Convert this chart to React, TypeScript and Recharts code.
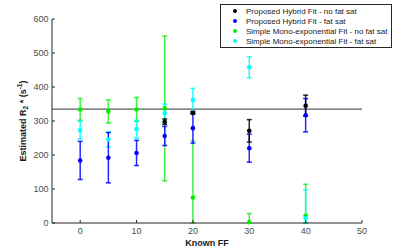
import { ScatterChart, Scatter, XAxis, YAxis, ErrorBar, ReferenceLine } from "recharts";

// known fat fraction (x) for each measurement
const knownFF = [0, 5, 10, 15, 20, 30, 40];
const hybridNoFatSatFF = [15, 20, 30, 40];

// Proposed Hybrid Fit - no fat sat
const hybridNoFatSat = [298, 324, 271, 345];
const hybridNoFatSatErrLow = [8, 4, 33, 31];
const hybridNoFatSatErrHigh = [8, 4, 33, 31];

// Proposed Hybrid Fit - fat sat
const hybridFatSat = [184, 192, 206, 256, 279, 220, 317];
const hybridFatSatErrLow = [56, 74, 37, 28, 44, 41, 49];
const hybridFatSatErrHigh = [56, 74, 37, 28, 44, 41, 49];

// Simple Mono-exponential Fit - no fat sat
const monoNoFatSat = [334, 328, 334, 337, 75, 2, 21];
const monoNoFatSatErrLow = [32, 34, 35, 213, 75, 2, 21];
const monoNoFatSatErrHigh = [32, 34, 35, 213, 167, 26, 93];

// Simple Mono-exponential Fit - fat sat
const monoFatSat = [273, 246, 276, 323, 362, 458, 14];
const monoFatSatErrLow = [26, 22, 26, 27, 34, 31, 14];
const monoFatSatErrHigh = [26, 22, 26, 27, 34, 31, 83];

const referenceR2 = 335;
const xTicks = [0, 10, 20, 30, 40, 50];
const yTicks = [0, 100, 200, 300, 400, 500, 600];

const series = [
  { name: "Proposed Hybrid Fit - no fat sat", color: "#000000" },
  { name: "Proposed Hybrid Fit - fat sat", color: "#0000ff" },
  { name: "Simple Mono-exponential Fit - no fat sat", color: "#00ee00" },
  { name: "Simple Mono-exponential Fit - fat sat", color: "#00ffff" },
];

const toPoints = (xs: number[], ys: number[], lo: number[], hi: number[]) =>
  xs.map((x, i) => ({ x, y: ys[i], err: [lo[i], hi[i]] }));

const blackData = toPoints(hybridNoFatSatFF, hybridNoFatSat, hybridNoFatSatErrLow, hybridNoFatSatErrHigh);
const blueData = toPoints(knownFF, hybridFatSat, hybridFatSatErrLow, hybridFatSatErrHigh);
const greenData = toPoints(knownFF, monoNoFatSat, monoNoFatSatErrLow, monoNoFatSatErrHigh);
const cyanData = toPoints(knownFF, monoFatSat, monoFatSatErrLow, monoFatSatErrHigh);

const axisColor = "#262626";
const font = "'Liberation Sans', Arial, Helvetica, sans-serif";

const dot = (color: string) => (props: any) =>
  <circle cx={props.cx} cy={props.cy} r={2.3} fill={color} />;

function YLabel(props: any) {
  const vb = props.viewBox;
  const x = vb.x + 3.5;
  const y = vb.y + vb.height / 2;
  return (
    <text transform={`translate(${x},${y}) rotate(-90)`} textAnchor="middle" fontSize={9} fontWeight="bold" fill="#1a1a1a">
      <tspan>Estimated R</tspan>
      <tspan fontSize={6.5} dy={2}>2</tspan>
      <tspan dy={-2}> * (s</tspan>
      <tspan fontSize={6.5} dy={-3.5}>-1</tspan>
      <tspan dy={3.5}>)</tspan>
    </text>
  );
}

function XLabel(props: any) {
  const vb = props.viewBox;
  return (
    <text x={vb.x + vb.width / 2} y={vb.y + 23} textAnchor="middle" fontSize={9} fontWeight="bold" fill="#1a1a1a">
      Known FF
    </text>
  );
}

function LegendBox() {
  return (
    <div
      style={{
        position: "absolute",
        left: 220,
        top: 4,
        width: 170,
        background: "#fff",
        border: `1px solid ${axisColor}`,
        padding: "1px 0 1px 0",
        fontFamily: font,
        fontSize: 8,
        color: "#1a1a1a",
      }}
    >
      {series.map((s) => (
        <div key={s.name} style={{ display: "flex", alignItems: "center", height: 10 }}>
          <span
            style={{
              display: "inline-block",
              width: 4,
              height: 4,
              borderRadius: 2,
              background: s.color,
              marginLeft: 12,
              marginRight: 9,
            }}
          />
          <span style={{ whiteSpace: "nowrap" }}>{s.name}</span>
        </div>
      ))}
    </div>
  );
}

export default function App() {
  return (
    <div style={{ position: "absolute", left: 0, top: 0, width: 400, height: 251, background: "#fff" }}>
      <ScatterChart
        width={400}
        height={251}
        margin={{ top: 19, right: 38, left: 22, bottom: 0 }}
        style={{ fontFamily: font }}
      >
        <XAxis
          dataKey="x"
          type="number"
          domain={[-5, 50]}
          ticks={xTicks}
          height={28}
          tickSize={-3}
          tickMargin={8}
          axisLine={{ stroke: axisColor }}
          tickLine={{ stroke: axisColor }}
          tick={{ fill: "#4d4d4d", fontSize: 9 }}
          label={{ content: XLabel }}
        />
        <XAxis
          xAxisId="top"
          orientation="top"
          type="number"
          domain={[-5, 50]}
          ticks={xTicks}
          height={0}
          tickSize={-3}
          tickFormatter={() => ""}
          axisLine={{ stroke: axisColor }}
          tickLine={{ stroke: axisColor }}
        />
        <YAxis
          dataKey="y"
          type="number"
          domain={[0, 600]}
          ticks={yTicks}
          width={30}
          tickSize={-3}
          tickMargin={6.5}
          axisLine={{ stroke: axisColor }}
          tickLine={{ stroke: axisColor }}
          tick={{ fill: "#4d4d4d", fontSize: 9 }}
          label={{ content: YLabel }}
        />
        <YAxis
          yAxisId="right"
          orientation="right"
          type="number"
          domain={[0, 600]}
          ticks={yTicks}
          width={0}
          tickSize={-3}
          tickFormatter={() => ""}
          axisLine={{ stroke: axisColor }}
          tickLine={{ stroke: axisColor }}
        />
        <ReferenceLine y={referenceR2} stroke="#333" strokeWidth={1} />
        <Scatter data={greenData} fill={series[2].color} shape={dot(series[2].color)} isAnimationActive={false}>
          <ErrorBar dataKey="err" direction="y" width={2.5} stroke={series[2].color} strokeOpacity={0.75} />
        </Scatter>
        <Scatter data={cyanData} fill={series[3].color} shape={dot(series[3].color)} isAnimationActive={false}>
          <ErrorBar dataKey="err" direction="y" width={2.5} stroke={series[3].color} strokeOpacity={0.85} />
        </Scatter>
        <Scatter data={blueData} fill={series[1].color} shape={dot(series[1].color)} isAnimationActive={false}>
          <ErrorBar dataKey="err" direction="y" width={2.5} stroke={series[1].color} strokeOpacity={0.85} />
        </Scatter>
        <Scatter data={blackData} fill={series[0].color} shape={dot(series[0].color)} isAnimationActive={false}>
          <ErrorBar dataKey="err" direction="y" width={2.5} stroke={series[0].color} strokeOpacity={0.85} />
        </Scatter>
      </ScatterChart>
      <LegendBox />
    </div>
  );
}
